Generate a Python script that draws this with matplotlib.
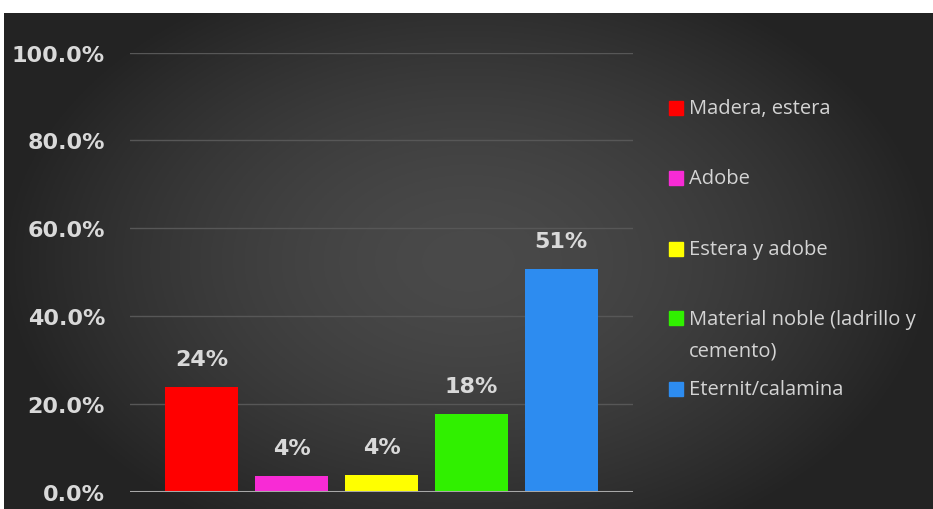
import numpy as np
import matplotlib
matplotlib.use("Agg")
from matplotlib import pyplot as plt
from matplotlib.patches import Rectangle

categories = ['Madera, estera', 'Adobe', 'Estera y adobe',
              'Material noble (ladrillo y\ncemento)', 'Eternit/calamina']
values = [0.238, 0.036, 0.038, 0.177, 0.507]
colors = ['#ff0000', '#f82bd5', '#ffff00', '#30f000', '#2d8cf0']
yticks = [0.0, 0.2, 0.4, 0.6, 0.8, 1.0]

W, H = 933, 510
fig = plt.figure(figsize=(W / 100, H / 100), dpi=100)
fig.patch.set_facecolor('white')

# dark slide background with a soft radial gradient
bg = fig.add_axes([4 / W, 0, 1 - 4 / W, 496 / H])
gx, gy = np.meshgrid(np.linspace(-1, 1, 400), np.linspace(-1, 1, 220))
r = np.clip(np.sqrt((gx / 1.0) ** 2 + (gy / 1.25) ** 2), 0, 1)
shade = 0.29 - 0.15 * r ** 1.6
bg.imshow(np.dstack([shade] * 3), aspect='auto', extent=[0, 1, 0, 1])
bg.set_axis_off()

ax = fig.add_axes([130 / W, 17.2 / H, 503 / W, 439.3 / H])
ax.set_facecolor('none')
x = np.arange(len(values))
bars = ax.bar(x, values, width=0.81, color=colors, zorder=3)
ax.set_xlim(-0.8, 4.8)
ax.set_ylim(0, 1)
ax.set_yticks(yticks)
ax.set_yticklabels([f'{t:.1%}' for t in yticks])
ax.set_xticks([])
ax.tick_params(axis='y', length=0, pad=18, labelsize=16, labelcolor='#d9d9d9')
for lab in ax.get_yticklabels():
    lab.set_fontweight('bold')
    lab.set_fontfamily('DejaVu Sans')
for t in yticks[1:]:
    ax.axhline(t, color='#575757', lw=1.0, zorder=1)
ax.axhline(0, color='#a8a8a8', lw=2.2, zorder=4)
for s in ax.spines.values():
    s.set_visible(False)

for b, v in zip(bars, values):
    ax.annotate(f'{v:.0%}', (b.get_x() + b.get_width() / 2, v),
                xytext=(0, 13), textcoords='offset points', ha='center', va='bottom',
                fontsize=16, fontweight='bold', family='DejaVu Sans',
                color='#d9d9d9')

# legend entries down the right side
rows = [109, 179, 250, 319, 390]
for name, c, yy in zip(categories, colors, rows):
    fig.patches.append(Rectangle((669 / W, 1 - (yy + 7) / H), 14 / W, 14 / H,
                                 transform=fig.transFigure, color=c))
    wrapped = '\n' in name
    fig.text(689 / W, 1 - (yy - 9) / H if wrapped else 1 - yy / H, name,
             ha='left', va='top' if wrapped else 'center',
             fontsize=14.5, family='Open Sans', color='#d4d4d4', linespacing=1.75)

fig.savefig('out.png', dpi=100)
